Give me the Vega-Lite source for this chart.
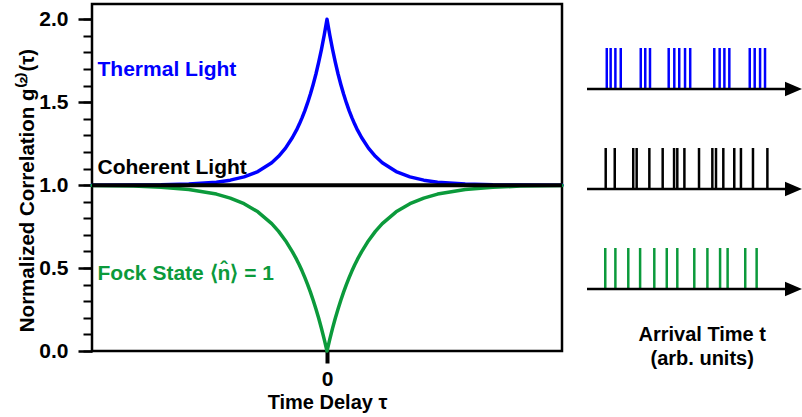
{
  "$schema": "https://vega.github.io/schema/vega-lite/v6.json",
  "background": "white",
  "padding": {"left": 15, "top": 2, "right": 0, "bottom": 0},
  "spacing": 25,
  "bounds": "flush",
  "config": {
    "font": "Liberation Sans",
    "view": {"stroke": null},
    "axis": {
      "grid": false,
      "labelFont": "Liberation Sans",
      "titleFont": "Liberation Sans",
      "labelFontWeight": "bold",
      "titleFontWeight": "bold",
      "labelColor": "black",
      "titleColor": "black",
      "tickColor": "black",
      "domainColor": "black"
    }
  },
  "datasets": {
    "curves": [
      {"tau": -8.5, "Thermal": 1.000, "Fock": 0.998},
      {"tau": -7, "Thermal": 1.001, "Fock": 0.994},
      {"tau": -6, "Thermal": 1.002, "Fock": 0.987},
      {"tau": -5, "Thermal": 1.007, "Fock": 0.974},
      {"tau": -4, "Thermal": 1.018, "Fock": 0.946},
      {"tau": -3.5, "Thermal": 1.030, "Fock": 0.922},
      {"tau": -3, "Thermal": 1.050, "Fock": 0.888},
      {"tau": -2.5, "Thermal": 1.082, "Fock": 0.839},
      {"tau": -2, "Thermal": 1.135, "Fock": 0.768},
      {"tau": -1.75, "Thermal": 1.174, "Fock": 0.721},
      {"tau": -1.5, "Thermal": 1.223, "Fock": 0.665},
      {"tau": -1.25, "Thermal": 1.287, "Fock": 0.598},
      {"tau": -1.1, "Thermal": 1.333, "Fock": 0.552},
      {"tau": -1.0, "Thermal": 1.368, "Fock": 0.518},
      {"tau": -0.9, "Thermal": 1.407, "Fock": 0.482},
      {"tau": -0.8, "Thermal": 1.449, "Fock": 0.442},
      {"tau": -0.7, "Thermal": 1.497, "Fock": 0.400},
      {"tau": -0.6, "Thermal": 1.549, "Fock": 0.355},
      {"tau": -0.5, "Thermal": 1.607, "Fock": 0.306},
      {"tau": -0.4, "Thermal": 1.670, "Fock": 0.253},
      {"tau": -0.3, "Thermal": 1.741, "Fock": 0.197},
      {"tau": -0.2, "Thermal": 1.819, "Fock": 0.136},
      {"tau": -0.1, "Thermal": 1.905, "Fock": 0.070},
      {"tau": 0, "Thermal": 2.000, "Fock": 0.000},
      {"tau": 0.1, "Thermal": 1.905, "Fock": 0.070},
      {"tau": 0.2, "Thermal": 1.819, "Fock": 0.136},
      {"tau": 0.3, "Thermal": 1.741, "Fock": 0.197},
      {"tau": 0.4, "Thermal": 1.670, "Fock": 0.253},
      {"tau": 0.5, "Thermal": 1.607, "Fock": 0.306},
      {"tau": 0.6, "Thermal": 1.549, "Fock": 0.355},
      {"tau": 0.7, "Thermal": 1.497, "Fock": 0.400},
      {"tau": 0.8, "Thermal": 1.449, "Fock": 0.442},
      {"tau": 0.9, "Thermal": 1.407, "Fock": 0.482},
      {"tau": 1.0, "Thermal": 1.368, "Fock": 0.518},
      {"tau": 1.1, "Thermal": 1.333, "Fock": 0.552},
      {"tau": 1.25, "Thermal": 1.287, "Fock": 0.598},
      {"tau": 1.5, "Thermal": 1.223, "Fock": 0.665},
      {"tau": 1.75, "Thermal": 1.174, "Fock": 0.721},
      {"tau": 2, "Thermal": 1.135, "Fock": 0.768},
      {"tau": 2.5, "Thermal": 1.082, "Fock": 0.839},
      {"tau": 3, "Thermal": 1.050, "Fock": 0.888},
      {"tau": 3.5, "Thermal": 1.030, "Fock": 0.922},
      {"tau": 4, "Thermal": 1.018, "Fock": 0.946},
      {"tau": 5, "Thermal": 1.007, "Fock": 0.974},
      {"tau": 6, "Thermal": 1.002, "Fock": 0.987},
      {"tau": 7, "Thermal": 1.001, "Fock": 0.994},
      {"tau": 8.5, "Thermal": 1.000, "Fock": 0.998}
    ],
    "labels": [
      {"label": "Thermal Light", "light": "Thermal", "tau": -8.3, "g2": 1.696},
      {"label": "Coherent Light", "light": "Coherent", "tau": -8.3, "g2": 1.106},
      {"label": "Fock State ⟨n̂⟩ = 1", "light": "Fock", "tau": -8.3, "g2": 0.466}
    ],
    "lanes": [
      {"light": "Thermal"},
      {"light": "Coherent"},
      {"light": "Fock"}
    ],
    "arrivals": [
      {"light": "Thermal", "t": 9.2}, {"light": "Thermal", "t": 11.0}, {"light": "Thermal", "t": 13.2}, {"light": "Thermal", "t": 15.7},
      {"light": "Thermal", "t": 25.0}, {"light": "Thermal", "t": 27.1}, {"light": "Thermal", "t": 29.3},
      {"light": "Thermal", "t": 38.0}, {"light": "Thermal", "t": 40.6}, {"light": "Thermal", "t": 42.9}, {"light": "Thermal", "t": 45.6}, {"light": "Thermal", "t": 48.0},
      {"light": "Thermal", "t": 59.2}, {"light": "Thermal", "t": 61.7}, {"light": "Thermal", "t": 63.9}, {"light": "Thermal", "t": 66.2},
      {"light": "Thermal", "t": 75.7}, {"light": "Thermal", "t": 78.0}, {"light": "Thermal", "t": 80.5}, {"light": "Thermal", "t": 82.8},
      {"light": "Coherent", "t": 8.7}, {"light": "Coherent", "t": 12.9}, {"light": "Coherent", "t": 21.5}, {"light": "Coherent", "t": 23.1},
      {"light": "Coherent", "t": 29.0}, {"light": "Coherent", "t": 35.2}, {"light": "Coherent", "t": 40.5}, {"light": "Coherent", "t": 42.0},
      {"light": "Coherent", "t": 45.3}, {"light": "Coherent", "t": 52.1}, {"light": "Coherent", "t": 58.3}, {"light": "Coherent", "t": 60.0},
      {"light": "Coherent", "t": 63.4}, {"light": "Coherent", "t": 68.5}, {"light": "Coherent", "t": 71.6}, {"light": "Coherent", "t": 77.2},
      {"light": "Coherent", "t": 83.9},
      {"light": "Fock", "t": 8.5}, {"light": "Fock", "t": 13.2}, {"light": "Fock", "t": 19.2}, {"light": "Fock", "t": 24.7},
      {"light": "Fock", "t": 31.3}, {"light": "Fock", "t": 37.1}, {"light": "Fock", "t": 42.0}, {"light": "Fock", "t": 49.9},
      {"light": "Fock", "t": 56.0}, {"light": "Fock", "t": 61.9}, {"light": "Fock", "t": 65.4}, {"light": "Fock", "t": 73.6},
      {"light": "Fock", "t": 78.9}
    ]
  },
  "hconcat": [
    {
      "width": 470,
      "height": 347,
      "view": {"stroke": "black", "strokeWidth": 2.5},
      "resolve": {"axis": {"y": "independent"}},
      "encoding": {
        "x": {
          "field": "tau", "type": "quantitative",
          "scale": {"domain": [-8.5, 8.5], "nice": false, "zero": false},
          "axis": {
            "values": [0], "domain": false, "tickSize": 12, "tickWidth": 4,
            "labelFontSize": 21, "labelPadding": 5,
            "title": "Time Delay τ", "titleFontSize": 20, "titleY": 41.5, "titleBaseline": "top"
          }
        }
      },
      "layer": [
        {
          "data": {"name": "curves"},
          "mark": {"type": "line", "color": "#0000ff", "strokeWidth": 3.5, "strokeJoin": "round", "strokeCap": "round"},
          "encoding": {
            "y": {
              "field": "Thermal", "type": "quantitative",
              "scale": {"domain": [0, 2.092], "nice": false, "zero": false},
              "axis": {
                "orient": "left", "values": [0, 0.5, 1, 1.5, 2], "format": ".1f",
                "domain": false, "tickSize": 14, "tickWidth": 2.5,
                "labelFontSize": 21, "labelPadding": 10,
                "title": "Normalized Correlation g⁽²⁾(τ)", "titleFontSize": 20.5,
                "titleX": -59, "titleY": 186, "titleBaseline": "alphabetic"
              }
            }
          }
        },
        {
          "data": {"name": "curves"},
          "mark": {"type": "line", "color": "#0b9a3b", "strokeWidth": 3.5, "strokeJoin": "round", "strokeCap": "round"},
          "encoding": {
            "y": {
              "field": "Fock", "type": "quantitative",
              "axis": {
                "orient": "left",
                "values": [0, 0.1, 0.2, 0.3, 0.4, 0.5, 0.6, 0.7, 0.8, 0.9, 1, 1.1, 1.2, 1.3, 1.4, 1.5, 1.6, 1.7, 1.8, 1.9, 2],
                "labels": false, "domain": false, "tickSize": 9, "tickWidth": 2, "title": null
              }
            }
          }
        },
        {
          "data": {"name": "curves"},
          "mark": {"type": "line", "color": "black", "strokeWidth": 4},
          "encoding": {
            "y": {"datum": 1, "type": "quantitative", "axis": null}
          }
        },
        {
          "data": {"name": "labels"},
          "mark": {"type": "text", "align": "left", "baseline": "middle", "fontSize": 21, "fontWeight": "bold"},
          "encoding": {
            "y": {"field": "g2", "type": "quantitative", "axis": null},
            "text": {"field": "label"},
            "color": {
              "field": "light", "type": "nominal",
              "scale": {"domain": ["Thermal", "Coherent", "Fock"], "range": ["#0000ff", "#000000", "#0b9a3b"]},
              "legend": null
            }
          }
        }
      ]
    },
    {
      "width": 215,
      "height": 347,
      "layer": [
        {
          "data": {"name": "arrivals"},
          "mark": {"type": "tick", "size": 41, "thickness": 2.5, "yOffset": -20.5, "opacity": 1},
          "encoding": {
            "x": {
              "field": "t", "type": "quantitative",
              "scale": {"domain": [0, 100], "nice": false, "zero": false},
              "axis": {
                "labels": false, "ticks": false, "domain": false,
                "title": ["Arrival Time t", "(arb. units)"], "titleFontSize": 20,
                "titleX": 114.7, "titleY": -26.5, "titleBaseline": "top", "titleLineHeight": 23.5
              }
            },
            "y": {
              "field": "light", "type": "nominal",
              "scale": {"type": "point", "domain": ["Thermal", "Coherent", "Fock"], "range": [85, 285], "padding": 0},
              "axis": null
            },
            "color": {
              "field": "light", "type": "nominal",
              "scale": {"domain": ["Thermal", "Coherent", "Fock"], "range": ["#0000ff", "#000000", "#0b9a3b"]},
              "legend": null
            }
          }
        },
        {
          "data": {"name": "lanes"},
          "mark": {"type": "rule", "color": "black", "strokeWidth": 2.5},
          "encoding": {
            "x": {
              "datum": 0, "type": "quantitative",
              "axis": {
                "labels": false, "ticks": false, "domain": false,
                "title": ["Arrival Time t", "(arb. units)"], "titleFontSize": 20,
                "titleX": 114.7, "titleY": -26.5, "titleBaseline": "top", "titleLineHeight": 23.5
              }
            },
            "x2": {"datum": 95},
            "y": {"field": "light", "type": "nominal", "axis": null}
          }
        },
        {
          "data": {"name": "lanes"},
          "mark": {"type": "point", "shape": "M-1,-0.85L1,0L-1,0.85Z", "size": 289, "filled": true, "color": "black", "opacity": 1, "strokeWidth": 0},
          "encoding": {
            "x": {
              "datum": 96.05, "type": "quantitative",
              "axis": {
                "labels": false, "ticks": false, "domain": false,
                "title": ["Arrival Time t", "(arb. units)"], "titleFontSize": 20,
                "titleX": 114.7, "titleY": -26.5, "titleBaseline": "top", "titleLineHeight": 23.5
              }
            },
            "y": {"field": "light", "type": "nominal", "axis": null}
          }
        }
      ]
    }
  ]
}
